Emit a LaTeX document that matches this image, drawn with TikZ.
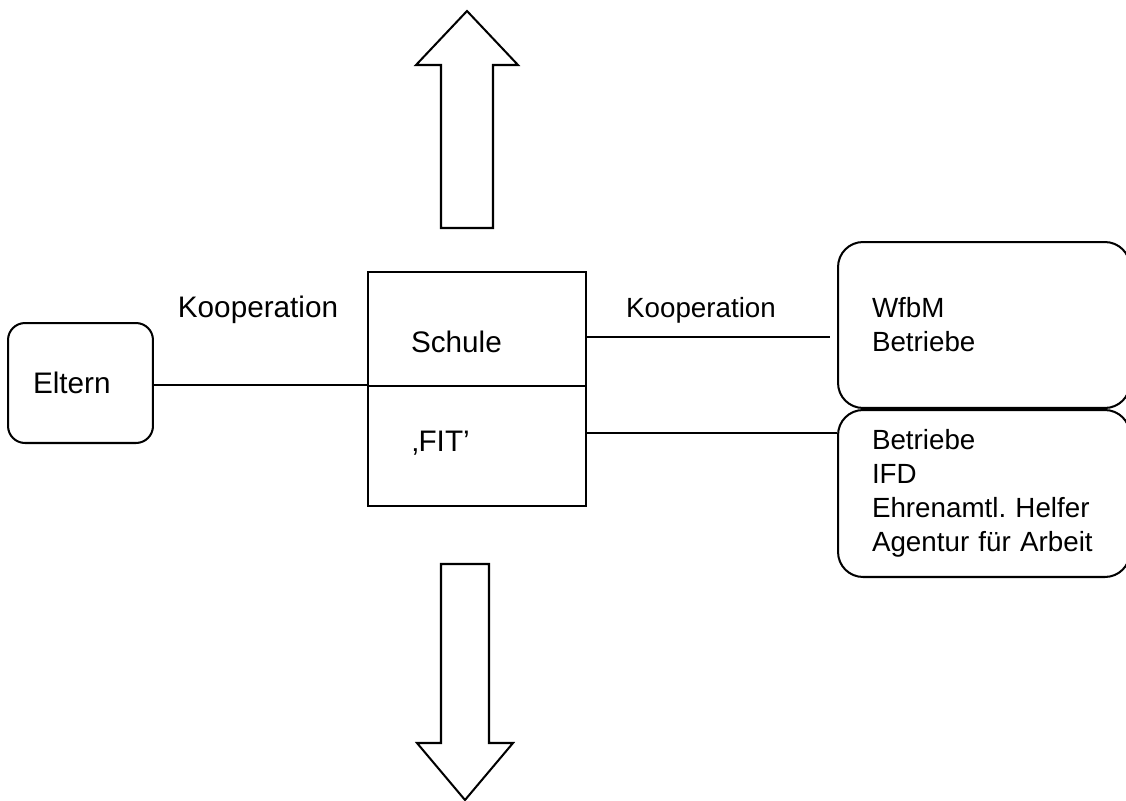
\documentclass[tikz,border=0pt]{standalone}
\usepackage{fontspec}
\setmainfont{Liberation Sans}
\usetikzlibrary{positioning}
\frenchspacing

\begin{document}
\begin{tikzpicture}[
      x=0.02cm, y=-0.02cm, line width=1.15pt,
      bigtxt/.style={font=\fontsize{16.9}{20}\selectfont, inner sep=0pt},
      smalltxt/.style={font=\fontsize{15.8}{19.35}\selectfont, inner sep=0pt},
      roundbox/.style={draw, rounded corners=0.34cm, align=left},
      partner/.style={draw, rounded corners=0.5cm, smalltxt, align=left, text width=4.48cm, inner xsep=0.68cm},
      cell/.style={draw, minimum width=4.36cm, inner sep=0pt}
    ]
      \useasboundingbox (0,0) rectangle (1126,801);

      % Eltern
      \node[roundbox, bigtxt, text width=1.9cm, inner xsep=0.5cm, minimum height=2.4cm] (eltern) at (80.5,383) {Eltern};

      % Schule / FIT
      \node[cell, minimum height=2.28cm] (schule) at (477,329) {};
      \node[cell, minimum height=2.4cm] (fit) at (477,446) {};
      \node[bigtxt, anchor=west] (schulename) at (410,342) {Schule};
      \node[bigtxt, anchor=west] (fitname) at (411,443) {‚FIT’};

      % Partner
      \node[partner, minimum height=3.32cm] (partnerA) at (984,325) {WfbM\\Betriebe};
      \node[partner, minimum height=3.34cm] (partnerB) at (984,493.5) {Betriebe\\IFD\\Ehrenamtl. Helfer\\Agentur für Arbeit};

      % Labels
      \node[bigtxt] (koopleft) at (258,310) {Kooperation};
      \node[smalltxt] (koopright) at (701,310) {Kooperation};

      % Lines
      \coordinate (gap) at (830,337);
      \coordinate (fitlink) at (700,433);
      \draw (eltern.east |- fit.north) -- (fit.north west);
      \draw (schule.east |- gap) -- (gap);
      \draw (fit.east |- fitlink) -- (partnerB.west |- fitlink);

      % Block arrows
      \draw (441,228) -- (441,65) -- (416,65) -- (467,11) -- (518,65) -- (493,65) -- (493,228) -- cycle;
      \draw (441,564) -- (489,564) -- (489,743) -- (513,743) -- (465,800) -- (417,743) -- (441,743) -- cycle;
    \end{tikzpicture}
\end{document}
